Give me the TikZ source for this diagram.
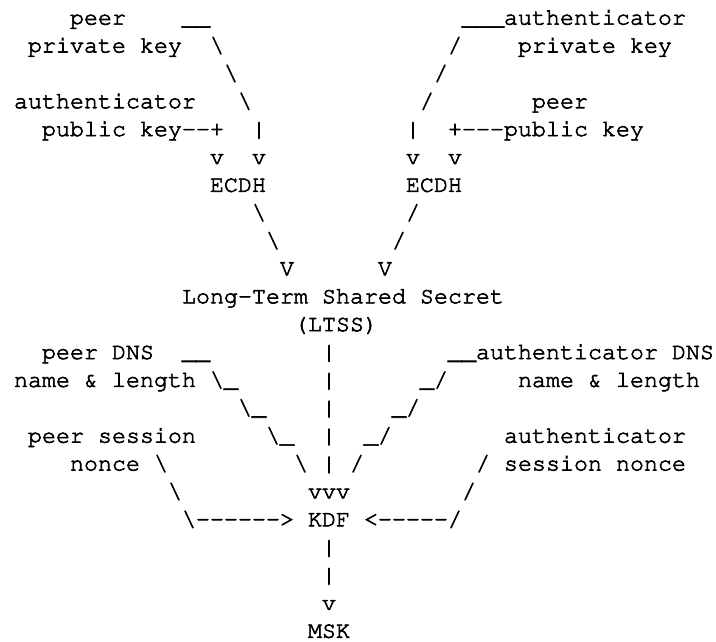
\documentclass[tikz,border=0pt]{standalone}
\tikzset{
  ascii/.style={anchor=base west, inner sep=0pt, outer sep=0pt, text=black,
    font=\fontencoding{T1}\fontfamily{pcr}\fontseries{m}\fontsize{23.33}{28}\selectfont},
}
% a slightly heavier stroke: glyphs are filled and outlined
\newcommand\heavy[1]{\special{pdf:literal direct 2 Tr 0.6 w}#1\special{pdf:literal direct 0 Tr}}
% \cell{name}{row}{column}{text}: one run of characters on the 14 x 28 grid
\newcommand\cell[4]{\node[ascii] (#1) at ({14*#3},{-24.6-27.87*(#2-1)}) {\heavy{#4}};}
\newcommand\bs{\textbackslash}
\begin{document}
\begin{tikzpicture}[x=1pt,y=1pt]
\useasboundingbox (0,0) rectangle (716,-641);
% ---- ECDH inputs ----
\cell{pprivA}{1}{5}{peer}
\cell{pprivL}{1}{13}{\_\_}
\cell{aprivL}{1}{33}{\_\_\_authenticator}
\cell{pprivB}{2}{2}{private key}
\cell{l2a}{2}{15}{\bs}
\cell{r2a}{2}{32}{/}
\cell{aprivB}{2}{37}{private key}
\cell{l3a}{3}{16}{\bs}
\cell{r3a}{3}{31}{/}
\cell{apubA}{4}{1}{authenticator}
\cell{l4a}{4}{17}{\bs}
\cell{r4a}{4}{30}{/}
\cell{ppubA}{4}{38}{peer}
\cell{apubB}{5}{3}{public key-{}-+}
\cell{l5a}{5}{18}{|}
\cell{r5a}{5}{29}{|}
\cell{ppubB}{5}{32}{+-{}-{}-public key}
\cell{l6a}{6}{15}{v}
\cell{l6b}{6}{18}{v}
\cell{r6a}{6}{29}{v}
\cell{r6b}{6}{32}{v}
\cell{ecdhL}{7}{15}{ECDH}
\cell{ecdhR}{7}{29}{ECDH}
% ---- into the LTSS ----
\cell{l8a}{8}{18}{\bs}
\cell{r8a}{8}{29}{/}
\cell{l9a}{9}{19}{\bs}
\cell{r9a}{9}{28}{/}
\cell{l10a}{10}{20}{V}
\cell{r10a}{10}{27}{V}
\cell{ltss}{11}{13}{Long-Term Shared Secret}
\cell{ltssB}{12}{21}{(LTSS)}
% ---- KDF inputs ----
\cell{pdnsA}{13}{3}{peer DNS}
\cell{l13a}{13}{13}{\_\_}
\cell{m13}{13}{23}{|}
\cell{adnsA}{13}{32}{\_\_authenticator DNS}
\cell{pdnsB}{14}{1}{name \& length}
\cell{l14a}{14}{15}{\bs\_}
\cell{m14}{14}{23}{|}
\cell{r14a}{14}{30}{\_/}
\cell{adnsB}{14}{37}{name \& length}
\cell{l15a}{15}{17}{\bs\_}
\cell{m15}{15}{23}{|}
\cell{r15a}{15}{28}{\_/}
\cell{pnonA}{16}{2}{peer session}
\cell{l16a}{16}{19}{\bs\_}
\cell{m16}{16}{23}{|}
\cell{r16a}{16}{26}{\_/}
\cell{anonA}{16}{36}{authenticator}
\cell{pnonB}{17}{5}{nonce}
\cell{l17a}{17}{11}{\bs}
\cell{l17b}{17}{21}{\bs}
\cell{m17}{17}{23}{|}
\cell{r17a}{17}{25}{/}
\cell{r17b}{17}{34}{/}
\cell{anonB}{17}{36}{session nonce}
\cell{l18a}{18}{12}{\bs}
\cell{m18}{18}{22}{vvv}
\cell{r18a}{18}{33}{/}
\cell{kdf}{19}{13}{\bs-{}-{}-{}-{}-{}->{} KDF <{}-{}-{}-{}-{}-/}
% ---- output ----
\cell{m20}{20}{23}{|}
\cell{m21}{21}{23}{|}
\cell{m22}{22}{23}{v}
\cell{msk}{23}{22}{MSK}
\end{tikzpicture}
\end{document}
